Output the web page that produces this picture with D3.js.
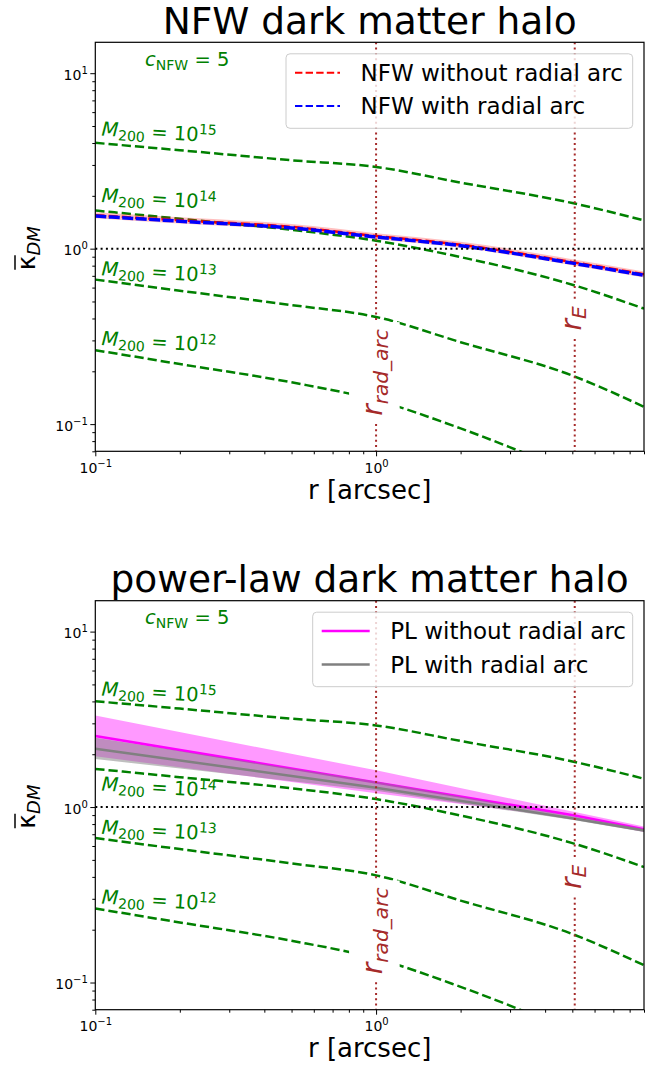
<!DOCTYPE html>
<html>
<head>
<meta charset="utf-8">
<script src="https://cdn.jsdelivr.net/npm/d3@7"></script>
<style>
  body { margin: 0; background: #fff; }
  svg { display: block; }
  text { font-family: "DejaVu Sans", sans-serif; }
</style>
</head>
<body>
<svg id="fig" width="660" height="1072"></svg>
<script>
// ---- data ----
const rGrid = [0.1, 0.2, 0.5, 1, 2, 5, 9];
const kappaM15 = [4.01, 3.64, 3.19, 2.92, 2.38, 1.82, 1.45];
const kappaM14 = [1.65, 1.48, 1.28, 1.11, 0.895, 0.623, 0.455];
const kappaM13 = [0.666, 0.576, 0.477, 0.408, 0.293, 0.189, 0.1255];
const kappaM12 = [0.264, 0.220, 0.173, 0.137, 0.0945, 0.053, 0.036];
const massExps = ['15', '14', '13', '12'];

const nfwWithout = [1.55, 1.45, 1.33, 1.18, 1.053, 0.838, 0.714];
const nfwWithoutLo = [1.49, 1.39, 1.28, 1.135, 1.012, 0.805, 0.686];
const nfwWithoutHi = [1.61, 1.51, 1.38, 1.225, 1.095, 0.871, 0.742];
const nfwWith = [1.534, 1.433, 1.312, 1.165, 1.04, 0.827, 0.705];

const rPL = [0.1, 1, 5.1, 9];
const plWithout = [2.54, 1.38, 0.896, 0.746];
const plWithoutLo = [1.95, 1.2, 0.86, 0.72];
const plWithoutHi = [3.32, 1.62, 0.936, 0.776];
const plWith = [2.15, 1.29, 0.858, 0.736];
const plWithLo = [1.88, 1.24, 0.84, 0.722];
const plWithHi = [2.48, 1.40, 0.88, 0.752];

const rRadArc = 1.0;
const rEin = 5.1;
const xDomain = [0.1, 9];
const yDomain = [0.07, 15];
const xMajor = [0.1, 1];
const xMinor = [0.2, 0.3, 0.4, 0.5, 0.6, 0.7, 0.8, 0.9, 2, 3, 4, 5, 6, 7, 8, 9];
const yMajor = [0.1, 1, 10];
const yMinor = [0.07, 0.08, 0.09, 0.2, 0.3, 0.4, 0.5, 0.6, 0.7, 0.8, 0.9, 2, 3, 4, 5, 6, 7, 8, 9];
const majorExp = { 0.1: '\u22121', 1: '0', 10: '1' };

// ---- layout ----
const left = 95.3, right = 644, plotH = 409;
const GREEN = '#008000', BROWN = '#a52a2a';
const svg = d3.select('#fig');

const mathText = (sel, parts, size) => {
  const t = sel.append('text').attr('font-size', size);
  let shift = 0;
  parts.forEach(p => {
    const sh = p.sub ? 0.2 * size : p.sup ? -0.38 * size : 0;
    t.append('tspan')
      .attr('dy', sh - shift)
      .attr('font-size', (p.sub || p.sup) ? size * 0.72 : size)
      .attr('font-style', p.it ? 'italic' : 'normal')
      .text(p.t);
    shift = sh;
  });
  return t;
};

const drawPanel = (cfg) => {
  const top = cfg.top;
  const bottom = top + plotH;
  const g = svg.append('g');

  const x = d3.scaleLog().domain(xDomain).range([left, right]);
  const y = d3.scaleLog().domain(yDomain).range([bottom, top]);

  const clipId = 'clip' + cfg.id;
  g.append('clipPath').attr('id', clipId)
    .append('rect')
      .attr('x', left).attr('y', top)
      .attr('width', right - left).attr('height', plotH);

  const plot = g.append('g').attr('clip-path', `url(#${clipId})`);

  const line = d3.line()
    .x(d => x(d[0]))
    .y(d => y(d[1]))
    .curve(d3.curveMonotoneX);
  const straight = d3.line()
    .x(d => x(d[0]))
    .y(d => y(d[1]));
  const area = (xs, lo, hi, curve) => d3.area()
    .x(d => x(d[0]))
    .y0(d => y(d[1]))
    .y1(d => y(d[2]))
    .curve(curve)(xs.map((r, i) => [r, lo[i], hi[i]]));

  // NFW mass curves
  [kappaM15, kappaM14, kappaM13, kappaM12].forEach(vals => {
    plot.append('path')
      .attr('d', line(rGrid.map((r, i) => [r, vals[i]])))
      .attr('fill', 'none')
      .attr('stroke', GREEN)
      .attr('stroke-width', 2.5)
      .attr('stroke-dasharray', '9.25,4');
  });

  if (cfg.kind === 'nfw') {
    plot.append('path')
      .attr('d', area(rGrid, nfwWithoutLo, nfwWithoutHi, d3.curveMonotoneX))
      .attr('fill', 'red').attr('fill-opacity', 0.25);
    plot.append('path')
      .attr('d', line(rGrid.map((r, i) => [r, nfwWithout[i]])))
      .attr('fill', 'none').attr('stroke', 'red')
      .attr('stroke-width', 2.5).attr('stroke-dasharray', '9.25,4');
    plot.append('path')
      .attr('d', line(rGrid.map((r, i) => [r, nfwWith[i]])))
      .attr('fill', 'none').attr('stroke', 'blue')
      .attr('stroke-width', 3.5).attr('stroke-dasharray', '11,2.5');
  } else {
    plot.append('path')
      .attr('d', area(rPL, plWithoutLo, plWithoutHi, d3.curveLinear))
      .attr('fill', 'magenta').attr('fill-opacity', 0.4);
    plot.append('path')
      .attr('d', straight(rPL.map((r, i) => [r, plWithout[i]])))
      .attr('fill', 'none').attr('stroke', 'magenta').attr('stroke-width', 2.5);
    plot.append('path')
      .attr('d', area(rPL, plWithLo, plWithHi, d3.curveLinear))
      .attr('fill', 'gray').attr('fill-opacity', 0.5);
    plot.append('path')
      .attr('d', straight(rPL.map((r, i) => [r, plWith[i]])))
      .attr('fill', 'none').attr('stroke', 'gray').attr('stroke-width', 2.5);
  }

  // kappa = 1 reference
  plot.append('line')
    .attr('x1', left).attr('x2', right)
    .attr('y1', y(1)).attr('y2', y(1))
    .attr('stroke', 'black').attr('stroke-width', 2)
    .attr('stroke-dasharray', '2,3.3');

  // radii markers
  [rRadArc, rEin].forEach(r => {
    plot.append('line')
      .attr('x1', x(r)).attr('x2', x(r))
      .attr('y1', top).attr('y2', bottom)
      .attr('stroke', BROWN).attr('stroke-width', 2)
      .attr('stroke-dasharray', '2,3.3');
  });

  // radius labels with white boxes
  const radLabel = (r, yv, parts) => {
    const lg = plot.append('g')
      .attr('transform', `translate(${x(r) + 6},${y(yv)}) rotate(-90)`);
    const box = lg.append('rect').attr('fill', 'white');
    const t = mathText(lg, parts, 28).attr('fill', BROWN).attr('text-anchor', 'middle');
    const bb = t.node().getBBox();
    const pad = 7;
    box.attr('x', bb.x - pad).attr('y', bb.y - pad)
      .attr('width', bb.width + 2 * pad).attr('height', bb.height + 2 * pad);
  };
  radLabel(rRadArc, 0.197, [{ t: 'r', it: true }, { t: 'rad_arc', it: true, sub: true }]);
  radLabel(rEin, 0.40, [{ t: 'r', it: true }, { t: 'E', it: true, sub: true }]);

  // mass labels
  cfg.massLabelY.forEach((yv, i) => {
    const px = x(0.105), py = y(yv);
    mathText(g, [
      { t: 'M', it: true }, { t: '200', sub: true },
      { t: ' = 10' }, { t: massExps[i], sup: true }
    ], 19.5)
      .attr('x', px).attr('y', py)
      .attr('fill', GREEN)
      .attr('transform', `rotate(3.5,${px},${py})`)
      .selectAll('tspan').filter((d, k) => k === 0).attr('x', px);
  });

  mathText(g, [{ t: 'c', it: true }, { t: 'NFW', sub: true }, { t: ' = 5' }], 19.5)
    .attr('x', 145).attr('y', top + 23.7)
    .attr('fill', GREEN);

  // axes
  const xAxisG = g.append('g').attr('transform', `translate(0,${bottom})`);
  xAxisG.call(d3.axisBottom(x).tickValues(xMinor).tickSize(3).tickFormat(''));
  const xMaj = g.append('g').attr('transform', `translate(0,${bottom})`)
    .call(d3.axisBottom(x).tickValues(xMajor).tickSize(5).tickFormat(''));
  const yAxisG = g.append('g').attr('transform', `translate(${left},0)`);
  yAxisG.call(d3.axisLeft(y).tickValues(yMinor).tickSize(3).tickFormat(''));
  const yMaj = g.append('g').attr('transform', `translate(${left},0)`)
    .call(d3.axisLeft(y).tickValues(yMajor).tickSize(5).tickFormat(''));
  [xAxisG, xMaj, yAxisG, yMaj].forEach(a => {
    a.select('.domain').remove();
    a.selectAll('line').attr('stroke', 'black').attr('stroke-width', 1);
  });
  const expLabel = t => {
    t.attr('font-size', 14).attr('fill', 'black').attr('font-family', '"DejaVu Sans", sans-serif');
    t.each(function (d) {
      const s = d3.select(this);
      s.append('tspan').text('10');
      s.append('tspan').attr('dy', -6).attr('font-size', 10).text(majorExp[d]);
    });
  };
  xMaj.selectAll('.tick text').attr('y', 21.5).attr('dy', 0).call(expLabel);
  yMaj.selectAll('.tick text').attr('x', -7.5).attr('y', 6).attr('dy', 0).call(expLabel);

  // frame
  g.append('rect')
    .attr('x', left).attr('y', top)
    .attr('width', right - left).attr('height', plotH)
    .attr('fill', 'none').attr('stroke', 'black').attr('stroke-width', 1.2);

  // legend
  const lg = g.append('g');
  lg.append('rect')
    .attr('x', cfg.legendX).attr('y', top + 11.5)
    .attr('width', 632.7 - cfg.legendX).attr('height', 74.5)
    .attr('rx', 4)
    .attr('fill', 'white').attr('fill-opacity', 0.8)
    .attr('stroke', '#cccccc').attr('stroke-width', 1);
  cfg.legend.forEach((item, i) => {
    const ry = top + 30.4 + i * 33.4;
    lg.append('line')
      .attr('x1', cfg.legendX + 9).attr('x2', cfg.legendX + 9 + cfg.legendLineW)
      .attr('y1', ry).attr('y2', ry)
      .attr('stroke', item.color).attr('stroke-width', item.width)
      .attr('stroke-dasharray', item.dash);
    lg.append('text')
      .attr('x', cfg.legendX + 9 + cfg.legendLineW + 20.5)
      .attr('y', ry + 8.3)
      .attr('font-size', 23)
      .text(item.label);
  });

  // titles
  g.append('text')
    .attr('x', (left + right) / 2).attr('y', top - 8.5)
    .attr('text-anchor', 'middle').attr('font-size', 37.5)
    .text(cfg.title);
  g.append('text')
    .attr('x', (left + right) / 2).attr('y', bottom + 47.5)
    .attr('text-anchor', 'middle').attr('font-size', 26)
    .text('r [arcsec]');

  const yl = g.append('g')
    .attr('transform', `translate(35,${(top + bottom) / 2}) rotate(-90)`);
  yl.append('text')
    .attr('x', -23.5).attr('y', 0).attr('font-size', 25)
    .text('\u03ba')
    .append('tspan').attr('dy', 4.5).attr('font-size', 18).attr('font-style', 'italic').text('DM');
  yl.append('line')
    .attr('x1', -23).attr('x2', -8.5).attr('y1', -20).attr('y2', -20)
    .attr('stroke', 'black').attr('stroke-width', 1.5);
};

drawPanel({
  id: 1, top: 42.3, kind: 'nfw', title: 'NFW dark matter halo',
  massLabelY: [4.42, 1.844, 0.705, 0.282],
  legendX: 286, legendLineW: 45,
  legend: [
    { label: 'NFW without radial arc', color: 'red', width: 2, dash: '7.4,3.2' },
    { label: 'NFW with radial arc', color: 'blue', width: 2, dash: '7.4,3.2' }
  ]
});
drawPanel({
  id: 2, top: 600.7, kind: 'pl', title: 'power-law dark matter halo',
  massLabelY: [4.32, 1.244, 0.705, 0.282],
  legendX: 312.7, legendLineW: 48,
  legend: [
    { label: 'PL without radial arc', color: 'magenta', width: 2.5, dash: null },
    { label: 'PL with radial arc', color: 'gray', width: 2.5, dash: null }
  ]
});
</script>
</body>
</html>
